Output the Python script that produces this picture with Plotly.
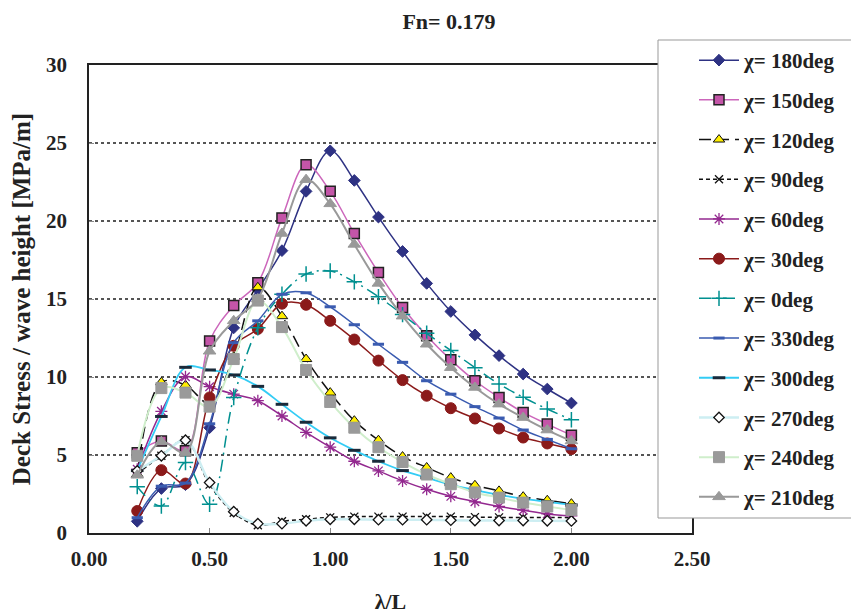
import plotly.graph_objects as go

# ---- data ----
wave_ratio = [0.2, 0.3, 0.4, 0.5, 0.6, 0.7, 0.8, 0.9, 1.0, 1.1,
              1.2, 1.3, 1.4, 1.5, 1.6, 1.7, 1.8, 1.9, 2.0]

chi_180 = [0.75, 2.85, 3.1, 6.75, 13.15, 15.6, 18.1, 21.9, 24.5, 22.6,
           20.25, 18.05, 16.0, 14.2, 12.7, 11.37, 10.19, 9.23, 8.33]
chi_150 = [5.15, 5.9, 5.27, 12.3, 14.58, 16.04, 20.2, 23.6, 21.9, 19.2,
           16.7, 14.45, 12.65, 11.1, 9.76, 8.69, 7.73, 6.98, 6.27]
chi_120 = [3.77, 9.66, 9.48, 8.3, 11.3, 15.75, 13.9, 11.15, 9.0, 7.2,
           5.95, 4.9, 4.2, 3.55, 3.06, 2.7, 2.33, 2.1, 1.88]
chi_90 = [3.8, 4.95, 5.95, 3.1, 1.3, 0.5, 0.75, 0.88, 1.0, 1.05,
          1.05, 1.05, 1.05, 1.05, 1.02, 1.0, 1.0, 1.0, 0.98]
chi_60 = [4.09, 7.8, 10.02, 9.38, 8.9, 8.48, 7.5, 6.45, 5.5, 4.6,
          3.98, 3.34, 2.8, 2.35, 2.0, 1.7, 1.46, 1.22, 1.1]
chi_30 = [1.41, 4.03, 3.17, 8.69, 12.0, 13.08, 14.7, 14.63, 13.6, 12.4,
          11.05, 9.8, 8.8, 8.0, 7.34, 6.7, 6.12, 5.74, 5.38]
chi_0 = [2.97, 1.73, 4.52, 1.84, 8.69, 13.15, 15.3, 16.6, 16.8, 16.1,
         15.15, 14.0, 12.8, 11.7, 10.6, 9.55, 8.7, 7.95, 7.26]
chi_330 = [0.98, 3.0, 3.2, 7.0, 12.2, 13.6, 15.3, 15.4, 14.5, 13.35,
           12.1, 10.94, 9.76, 8.9, 8.1, 7.37, 6.6, 6.0, 5.4]
chi_300 = [4.0, 7.47, 10.62, 10.45, 10.13, 9.4, 8.25, 7.1, 6.1, 5.3,
           4.6, 4.0, 3.55, 3.1, 2.75, 2.45, 2.2, 2.0, 1.8]
chi_270 = [3.98, 4.95, 5.95, 3.23, 1.37, 0.6, 0.6, 0.78, 0.88, 0.88,
           0.85, 0.85, 0.85, 0.82, 0.8, 0.8, 0.8, 0.78, 0.77]
chi_240 = [4.95, 9.29, 9.0, 8.1, 11.15, 14.9, 13.2, 10.45, 8.4, 6.75,
           5.5, 4.55, 3.75, 3.13, 2.6, 2.27, 1.95, 1.7, 1.48]
chi_210 = [3.7, 5.85, 5.15, 11.65, 13.6, 15.0, 19.2, 22.65, 21.1, 18.5,
           16.0, 13.9, 12.1, 10.6, 9.33, 8.26, 7.4, 6.6, 5.9]

series_names = ["χ= 180deg", "χ= 150deg", "χ= 120deg", "χ= 90deg", "χ= 60deg",
                "χ= 30deg", "χ= 0deg", "χ= 330deg", "χ= 300deg", "χ= 270deg",
                "χ= 240deg", "χ= 210deg"]
series_values = [chi_180, chi_150, chi_120, chi_90, chi_60, chi_30, chi_0,
                 chi_330, chi_300, chi_270, chi_240, chi_210]

x_ticks = [0.0, 0.5, 1.0, 1.5, 2.0, 2.5]
y_ticks = [0, 5, 10, 15, 20, 25, 30]

# ---- styles ----
styles = [
    dict(line=dict(color="#2E3283", width=1.5), marker=dict(symbol="diamond", size=9, color="#2E3283", line=dict(color="#2E3283", width=1))),
    dict(line=dict(color="#CC66BB", width=1.5), marker=dict(symbol="square", size=10, color="#C455A8", line=dict(color="#222222", width=1.5))),
    dict(line=dict(color="#111111", width=1.5, dash="12px,6px"), marker=dict(symbol="triangle-up", size=10, color="#FFEE00", line=dict(color="#111111", width=1))),
    dict(line=dict(color="#111111", width=1.5, dash="4px,3px"), marker=dict(symbol="x-thin", size=8, color="#111111", line=dict(color="#111111", width=1.3))),
    dict(line=dict(color="#93288F", width=1.5), marker=dict(symbol="asterisk", size=10, color="#93288F", line=dict(color="#93288F", width=1.3))),
    dict(line=dict(color="#8B1A1A", width=1.5), marker=dict(symbol="circle", size=11, color="#8B1A1A", line=dict(color="#8B1A1A", width=1))),
    dict(line=dict(color="#009090", width=1.5, dash="12px,5px,2px,5px"), marker=dict(symbol="cross-thin", size=11, color="#009090", line=dict(color="#009090", width=1.5))),
    dict(line=dict(color="#3A5BB0", width=1.5), marker=dict(symbol="line-ew", size=8, color="#3A5BB0", line=dict(color="#3A5BB0", width=3))),
    dict(line=dict(color="#33CCF5", width=1.8), marker=dict(symbol="line-ew", size=9, color="#1A2A3A", line=dict(color="#1A2A3A", width=3))),
    dict(line=dict(color="#CDEEF2", width=2.5), marker=dict(symbol="diamond", size=8, color="white", line=dict(color="#111111", width=1.3))),
    dict(line=dict(color="#CFEECB", width=2), marker=dict(symbol="square", size=11, color="#9A9A9A", line=dict(color="#9A9A9A", width=1))),
    dict(line=dict(color="#999999", width=2), marker=dict(symbol="triangle-up", size=11, color="#999999", line=dict(color="#999999", width=1))),
]

fig = go.Figure()
for i, (name, vals, st) in enumerate(zip(series_names, series_values, styles)):
    line = dict(st["line"])
    line["shape"] = "spline"
    line["smoothing"] = 1.0
    fig.add_trace(go.Scatter(
        x=wave_ratio, y=vals, name=f"<b>{name}</b>", mode="lines+markers",
        line=line, marker=st["marker"], legendgroup=f"g{i}",
    ))

font_family = "Liberation Serif, Times New Roman, serif"
txt = "#222222"

# page has an 8px body margin; coordinates below are screenshot pixels
OFF = 8
L, R, T, B = 89, 692, 65, 533
SW, SH = 859, 615
W, H = SW - OFF, SH - OFF
pw, ph = R - L, B - T

def px(xp):
    return (xp - L) / pw

def py(yp):
    return (B - yp) / ph

fig.update_layout(
    width=W, height=H,
    margin=dict(l=L - OFF, r=SW - R, t=T - OFF, b=SH - B, autoexpand=False),
    paper_bgcolor="white", plot_bgcolor="white",
    font=dict(family=font_family, color=txt),
    title=dict(text="<b>Fn= 0.179</b>", x=(449 - OFF) / W, xref="container", xanchor="center",
               y=1 - (21 - OFF) / H, yref="container", yanchor="middle",
               font=dict(size=22, family=font_family, color=txt)),
    showlegend=True,
    legend=dict(x=px(694), y=py(40), xanchor="left", yanchor="top",
                bgcolor="rgba(0,0,0,0)", borderwidth=0,
                font=dict(size=21, family=font_family, color=txt),
                itemwidth=40, tracegroupgap=9.4, traceorder="grouped",
                itemclick=False),
    xaxis=dict(range=[0, 2.5], tickvals=x_ticks, ticktext=[f"<b>{v:.2f}</b>" for v in x_ticks],
               ticks="inside", ticklen=5, tickcolor="#888888",
               showline=True, linecolor="#222222", linewidth=1.5, mirror=True,
               showgrid=False, zeroline=False, automargin=False,
               tickfont=dict(size=21, family=font_family, color=txt),
               ticklabelstandoff=6,
               title=dict(text="<b>λ/L</b>", font=dict(size=22, family=font_family, color=txt), standoff=24)),
    yaxis=dict(range=[0, 30], tickvals=y_ticks, ticktext=[f"<b>{v}</b>" for v in y_ticks],
               ticks="inside", ticklen=5, tickcolor="#888888",
               showline=True, linecolor="#222222", linewidth=1.5, mirror=True,
               showgrid=True, gridcolor="#555555", gridwidth=1.5, griddash="dot",
               zeroline=False, automargin=False,
               tickfont=dict(size=21, family=font_family, color=txt),
               ticklabelstandoff=16,
               title=dict(text="<b>Deck Stress / wave height [MPa/m]</b>", font=dict(size=25, family=font_family, color=txt), standoff=10)),
    shapes=[dict(type="rect", xref="paper", yref="paper",
                 x0=px(658), x1=px(855), y0=py(518), y1=py(40),
                 fillcolor="white", line=dict(color="#999999", width=1), layer="above")],
)

try:
    fig.update_layout(legend_maxheight=520)
except Exception:
    fig.update_layout(legend_y=1.0)

fig.write_html("out.html")
